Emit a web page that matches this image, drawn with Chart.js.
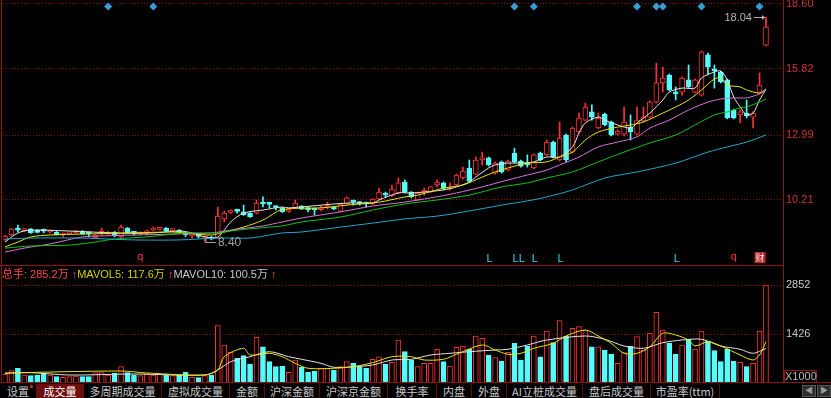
<!DOCTYPE html>
<html lang="zh">
<head>
<meta charset="UTF-8">
<title>成交量</title>
<script src="https://cdn.jsdelivr.net/npm/chart.js"></script>
<style>
  body { margin:0; background:#000; width:831px; height:398px; overflow:hidden; position:relative;
         font-family:'Liberation Sans','Noto Sans CJK SC',sans-serif; }
  canvas { position:absolute; left:0; }
  #priceChart { top:0; }
  #volChart { top:266px; }
  #volHead { position:absolute; left:2px; top:268px; font-size:11px; line-height:13px; white-space:nowrap; }
  #volHead .r { color:#ff4646; }
  #volHead .y { color:#d2d200; }
  #volHead .w { color:#c8c8c8; }
  #unit { position:absolute; left:784px; top:370px; width:31px; height:11px; border:1px solid #8c1414;
          color:#b4b4b4; font-size:11px; line-height:11px; text-align:center; }
  #tabs { position:absolute; left:0; top:384px; width:831px; height:14px; }
  .tab { position:absolute; top:0; height:14px; line-height:14px; font-size:11px; color:#c8c8c8;
         text-align:center; border-right:1px solid #5e0c0c; box-sizing:border-box;
         font-family:'Noto Sans CJK SC','Liberation Sans',sans-serif; white-space:nowrap; }
  .tab.on { background:#6e0f0f; color:#fff; }
  .dot { position:absolute; left:30px; top:1px; width:3px; height:3px; background:#ff2a2a; border-radius:2px; }
  .btn { position:absolute; top:385px; width:14px; height:12px; background:#2e2e2e; border:1px solid #555;
         box-sizing:border-box; color:#9a9a9a; font-size:8px; line-height:10px; text-align:center; }
</style>
</head>
<body>

<canvas id="priceChart" width="831" height="266"></canvas>
<canvas id="volChart" width="831" height="117"></canvas>

<div id="volHead">
  <span class="r">总手: 285.2万</span> <span class="r">↑</span><span class="y">MAVOL5: 117.6万</span> <span class="r">↑</span><span class="w">MAVOL10: 100.5万</span> <span class="r">↑</span>
</div>
<div id="unit">X1000</div>
<div id="tabs"></div>
<div class="btn" style="left:802px">◀</div>
<div class="btn" style="left:817px">▶</div>

<script>
  // 日K数据
  const openP = [8.50, 8.71, 8.97, 8.90, 8.97, 8.92, 8.90, 8.84, 8.84, 8.71,
    8.76, 8.80, 8.88, 8.80, 8.60, 8.78, 8.75, 8.84, 8.63, 9.01,
    8.84, 8.76, 8.80, 8.92, 8.95, 9.01, 8.90, 8.92, 8.78, 8.67,
    8.69, 8.58, 8.60, 8.58, 9.40, 9.68, 9.76, 9.70, 9.65, 9.65,
    10.10, 10.08, 9.93, 9.87, 9.72, 9.87, 9.95, 9.85, 9.82, 9.80,
    9.89, 9.91, 9.72, 10.04, 10.19, 10.12, 10.10, 10.04, 10.25, 10.47,
    10.38, 10.51, 10.98, 10.55, 10.21, 10.55, 10.55, 10.85, 10.94, 10.68,
    10.85, 11.15, 11.58, 11.32, 11.92, 12.01, 11.36, 11.84, 11.49, 12.22,
    11.88, 11.75, 11.58, 12.22, 12.14, 12.69, 11.92, 12.99, 12.26, 13.12,
    13.63, 13.98, 13.29, 13.89, 13.55, 13.03, 13.03, 13.33, 13.03, 13.59,
    13.76, 14.40, 15.22, 15.56, 14.83, 14.83, 15.35, 14.83, 14.70, 16.42,
    15.82, 15.69, 15.35, 14.06, 13.85, 13.93, 13.76, 14.79, 16.84];
  const highP = [8.70, 9.00, 9.14, 8.97, 8.99, 8.94, 8.97, 8.92, 8.86, 8.80,
    8.82, 8.90, 8.90, 8.84, 8.73, 9.01, 8.86, 8.86, 9.14, 9.03,
    8.86, 8.82, 8.92, 9.05, 9.01, 9.03, 8.97, 8.94, 8.82, 8.75,
    8.73, 8.67, 8.65, 9.91, 9.74, 9.78, 9.82, 9.99, 9.67, 10.21,
    10.34, 10.12, 9.95, 9.89, 9.80, 10.21, 9.97, 9.89, 9.87, 9.95,
    10.12, 9.93, 10.06, 10.34, 10.21, 10.14, 10.12, 10.27, 10.72, 10.55,
    10.85, 11.15, 11.07, 10.57, 10.55, 10.72, 10.79, 11.07, 10.98, 10.94,
    11.32, 11.62, 11.92, 12.05, 12.26, 12.05, 11.84, 11.88, 11.92, 12.43,
    11.92, 12.14, 12.18, 12.26, 12.78, 12.73, 13.55, 13.03, 13.33, 13.93,
    14.36, 14.28, 13.93, 13.93, 13.59, 13.21, 14.19, 13.85, 14.19, 14.19,
    14.45, 16.07, 15.90, 15.60, 15.05, 15.48, 15.99, 15.39, 16.59, 16.50,
    15.99, 15.73, 15.39, 14.10, 14.06, 14.49, 13.98, 15.65, 18.04];
  const lowP = [8.48, 8.69, 8.84, 8.86, 8.78, 8.80, 8.80, 8.80, 8.71, 8.63,
    8.74, 8.78, 8.74, 8.63, 8.58, 8.71, 8.73, 8.63, 8.60, 8.78,
    8.71, 8.71, 8.71, 8.88, 8.92, 8.86, 8.86, 8.82, 8.63, 8.58,
    8.58, 8.40, 8.50, 8.56, 9.27, 9.63, 9.65, 9.55, 9.46, 9.61,
    9.91, 9.87, 9.78, 9.68, 9.68, 9.85, 9.80, 9.70, 9.57, 9.74,
    9.82, 9.80, 9.70, 10.02, 9.99, 9.99, 9.91, 10.02, 10.23, 10.34,
    10.36, 10.49, 10.51, 10.30, 10.19, 10.42, 10.53, 10.77, 10.64, 10.64,
    10.81, 11.10, 10.98, 11.28, 11.71, 11.66, 11.32, 11.36, 11.45, 11.79,
    11.62, 11.62, 11.54, 11.88, 12.10, 12.01, 11.88, 11.84, 12.22, 13.08,
    13.59, 13.63, 13.25, 13.38, 12.95, 12.99, 12.95, 12.78, 12.99, 13.55,
    13.72, 14.36, 14.83, 14.88, 14.49, 14.70, 15.00, 14.79, 14.66, 15.56,
    15.00, 15.22, 13.68, 13.68, 13.51, 13.72, 13.29, 14.75, 16.80];
  const closeP = [8.67, 8.97, 8.92, 8.94, 8.80, 8.82, 8.87, 8.88, 8.73, 8.75,
    8.80, 8.88, 8.76, 8.76, 8.71, 8.82, 8.84, 8.67, 9.05, 8.80,
    8.78, 8.80, 8.86, 8.97, 8.99, 8.88, 8.93, 8.84, 8.73, 8.71,
    8.65, 8.63, 8.54, 9.52, 9.65, 9.72, 9.72, 9.57, 9.50, 10.08,
    10.04, 10.02, 9.89, 9.70, 9.78, 10.08, 9.82, 9.80, 9.78, 9.85,
    9.93, 9.82, 10.04, 10.30, 10.12, 10.06, 10.04, 10.25, 10.55, 10.42,
    10.68, 10.94, 10.55, 10.34, 10.51, 10.60, 10.77, 10.98, 10.70, 10.74,
    11.28, 11.45, 11.02, 11.92, 12.01, 11.71, 11.79, 11.41, 11.88, 11.84,
    11.66, 11.71, 12.14, 11.92, 12.69, 12.05, 12.86, 11.92, 13.29, 13.72,
    14.19, 13.76, 13.72, 13.42, 12.99, 13.16, 13.55, 13.12, 13.63, 13.76,
    14.40, 15.22, 15.43, 14.92, 14.75, 15.43, 15.05, 15.35, 16.55, 15.90,
    15.73, 15.26, 13.72, 13.72, 13.98, 13.81, 13.93, 15.13, 17.61];

  // 成交量（单位：千手）
  const volume = [253, 358, 428, 233, 213, 233, 282, 233, 184, 165,
    184, 204, 184, 184, 300, 300, 233, 282, 475, 300,
    233, 213, 262, 233, 262, 233, 213, 233, 311, 165,
    155, 213, 233, 1668, 1106, 893, 719, 795, 553, 1330,
    1056, 620, 475, 495, 311, 669, 457, 311, 349, 428,
    428, 378, 475, 620, 573, 475, 428, 690, 765, 553,
    600, 1251, 911, 669, 475, 573, 573, 980, 620, 495,
    1038, 1077, 980, 1368, 1300, 815, 737, 640, 893, 1155,
    669, 1077, 1368, 765, 1513, 1173, 1813, 1368, 1591, 1640,
    1542, 1056, 1056, 960, 844, 573, 882, 1077, 1348, 960,
    1446, 2057, 1542, 1155, 844, 1106, 1271, 989, 1513, 1222,
    940, 620, 989, 640, 602, 475, 573, 1513, 2852];

  // 均线 [K线序号, 数值]
  const ma5Pts = [[0, 8.41], [2, 8.80], [4, 8.92], [10, 8.88], [17, 8.80], [23, 8.80], [27, 8.88], [29, 8.80],
    [31, 8.63], [33, 8.63], [35, 9.27], [37, 9.65], [40, 9.78], [43, 9.91], [44, 9.87], [53, 10.08], [57, 10.08],
    [58, 10.21], [61, 10.51], [63, 10.51], [65, 10.55], [68, 10.64], [70, 10.77], [72, 10.98], [73, 11.19],
    [75, 11.58], [76, 11.71], [78, 11.79], [80, 11.79], [82, 11.84], [84, 12.05], [86, 12.05], [88, 12.48],
    [89, 13.08], [90, 13.51], [92, 13.76], [93, 13.63], [95, 13.42], [97, 13.29], [98, 13.51], [100, 13.93],
    [102, 14.49], [103, 14.83], [105, 15.00], [107, 15.00], [108, 15.43], [110, 15.69], [111, 15.73],
    [112, 15.35], [113, 14.62], [114, 14.19], [115, 13.85], [116, 13.93], [117, 14.49], [118, 14.96]];
  const ma10Pts = [[0, 8.20], [2, 8.41], [4, 8.63], [7, 8.71], [12, 8.75], [20, 8.80], [26, 8.84], [28, 8.80],
    [32, 8.71], [34, 8.84], [37, 9.05], [40, 9.35], [43, 9.80], [49, 9.87], [53, 9.99], [58, 10.12],
    [62, 10.34], [64, 10.42], [68, 10.72], [71, 10.85], [74, 11.19], [76, 11.41], [78, 11.58], [81, 11.79],
    [84, 11.84], [86, 12.05], [88, 12.26], [90, 12.78], [92, 13.12], [95, 13.33], [97, 13.42], [99, 13.55],
    [102, 13.93], [104, 14.19], [106, 14.49], [108, 14.92], [110, 15.39], [111, 15.43], [112, 15.13],
    [114, 15.05], [115, 14.92], [117, 14.79], [118, 14.96]];
  const ma20Pts = [[0, 7.98], [3, 8.15], [7, 8.33], [12, 8.63], [15, 8.67], [20, 8.71], [26, 8.75], [32, 8.80],
    [35, 8.92], [40, 9.10], [43, 9.27], [46, 9.44], [52, 9.70], [57, 9.95], [62, 10.12], [66, 10.30],
    [70, 10.51], [74, 10.77], [78, 11.07], [81, 11.28], [84, 11.49], [86, 11.71], [89, 12.05], [92, 12.48],
    [95, 12.69], [98, 12.91], [100, 13.29], [103, 13.63], [106, 14.06], [109, 14.40], [111, 14.53],
    [113, 14.58], [115, 14.58], [117, 14.75], [118, 14.92]];
  const ma30Pts = [[0, 8.15], [4, 8.24], [10, 8.28], [14, 8.41], [17, 8.54], [22, 8.63], [28, 8.80], [33, 8.80],
    [36, 8.92], [41, 9.05], [43, 9.10], [46, 9.27], [52, 9.48], [57, 9.78], [62, 10.04], [67, 10.21],
    [72, 10.42], [77, 10.77], [81, 10.94], [84, 11.15], [88, 11.41], [92, 11.84], [96, 12.26], [100, 12.65],
    [104, 12.99], [107, 13.42], [110, 13.85], [112, 13.98], [114, 14.15], [115, 14.19], [117, 14.40], [118, 14.53]];
  const ma60Pts = [[0, 8.54], [4, 8.58], [12, 8.58], [16, 8.54], [20, 8.50], [27, 8.50], [33, 8.58], [38, 8.58],
    [41, 8.71], [43, 8.80], [46, 8.84], [52, 9.05], [57, 9.22], [62, 9.40], [67, 9.52], [72, 9.74],
    [77, 9.99], [81, 10.17], [84, 10.34], [88, 10.64], [93, 11.15], [98, 11.41], [104, 11.79], [109, 12.26],
    [112, 12.48], [115, 12.69], [118, 12.99]];
  const volMa5Pts = [[0, 291], [18, 349], [22, 291], [31, 233], [33, 378], [34, 765], [37, 1010], [38, 815],
    [41, 864], [43, 765], [45, 573], [47, 428], [51, 428], [54, 474], [57, 591], [60, 765], [63, 765],
    [65, 669], [68, 690], [70, 835], [74, 1106], [76, 960], [78, 835], [80, 864], [82, 1010], [85, 1155],
    [87, 1368], [90, 1542], [92, 1368], [94, 1155], [96, 864], [98, 864], [100, 1056], [102, 1446],
    [104, 1397], [106, 1251], [107, 1077], [109, 1202], [111, 1077], [114, 815], [116, 669], [117, 815], [118, 1202]];
  const volMa10Pts = [[0, 282], [4, 300], [10, 233], [20, 262], [31, 233], [33, 378], [35, 620], [38, 765],
    [41, 911], [44, 765], [46, 690], [49, 573], [51, 457], [54, 474], [57, 524], [60, 669], [63, 690],
    [66, 815], [69, 864], [72, 911], [76, 960], [78, 981], [81, 1106], [84, 1251], [90, 1368], [93, 1272],
    [96, 1077], [99, 1010], [102, 1173], [105, 1251], [108, 1272], [111, 1077], [114, 981], [116, 864], [118, 1005]];

  const priceTicks = [18.60, 15.82, 12.99, 10.21];
  const volTicks = [1426, 2852];
  const signalIdx = [16, 23, 79, 82, 98, 101, 102, 108, 117];
  const markL = [75, 79, 80, 82, 86, 104];
  const markQ = [21, 113];
  const markCai = [117];
  const highLabelIdx = 118, lowLabelIdx = 31;

  const tabNames = ['设置', '成交量', '多周期成交量', '虚拟成交量', '金额', '沪深金额', '沪深京金额',
    '换手率', '内盘', '外盘', 'AI立桩成交量', '盘后成交量', '市盈率(ttm)'];
  const tabEdges = [0, 37, 84, 162, 230, 265, 320, 388, 437, 472, 507, 583, 651, 720];

  const RED = '#ff3232', CYAN = '#54fcfc', FRAME = '#8c1414';
  Chart.defaults.font.family = "'Liberation Sans', 'Noto Sans CJK SC', sans-serif";
  Chart.defaults.font.size = 11;

  const idx = openP.map((_, i) => i);
  const up = idx.map(i => closeP[i] >= openP[i]);
  const toXY = pts => pts.map(p => ({ x: p[0], y: p[1] }));

  const xScale = { type: 'linear', min: -0.31, max: 120.64, display: false, offset: false };

  function rightAxis(min, max, ticks, color, fmt) {
    return {
      position: 'right', min: min, max: max,
      afterBuildTicks: s => { s.ticks = ticks.map(v => ({ value: v })); },
      // 刻度文字不占用绘图区上下空间
      afterFit: s => { s.width = 48; s.paddingTop = 0; s.paddingBottom = 0; },
      grid: { color: FRAME, drawTicks: false, lineWidth: 1 },
      border: { display: false, dash: [1, 2] },
      ticks: { color: color, padding: 3, font: { size: 11 }, callback: fmt }
    };
  }

  function maLine(pts, color) {
    return { type: 'line', data: toXY(pts), borderColor: color, borderWidth: 1, pointRadius: 0,
      tension: 0.3, fill: false, order: 1 };
  }

  // 面板边框
  function framePlugin(bottomFull) {
    return {
      id: 'frame',
      afterDraw(chart) {
        const { ctx, width, height } = chart;
        ctx.save();
        ctx.strokeStyle = FRAME;
        ctx.lineWidth = 1;
        ctx.beginPath();
        ctx.moveTo(1.5, 0); ctx.lineTo(1.5, height);
        ctx.moveTo(783.5, 0); ctx.lineTo(783.5, height);
        ctx.moveTo(0, height - 0.5); ctx.lineTo(bottomFull ? width : 784, height - 0.5);
        ctx.stroke();
        ctx.restore();
      }
    };
  }

  const priceMarks = {
    id: 'priceMarks',
    afterDatasetsDraw(chart) {
      const { ctx, scales: { x, y } } = chart;
      ctx.save();
      ctx.font = "11px 'Liberation Sans', sans-serif";
      ctx.textAlign = 'center';
      ctx.textBaseline = 'alphabetic';
      ctx.fillStyle = '#30d8ec';
      markL.forEach(i => ctx.fillText('L', x.getPixelForValue(i) + 1, 262));
      ctx.fillStyle = RED;
      markQ.forEach(i => ctx.fillText('q', x.getPixelForValue(i), 260));
      markCai.forEach(i => {
        const px = x.getPixelForValue(i);
        ctx.fillStyle = '#b82a2a';
        ctx.fillRect(px - 5, 252, 11, 11);
        ctx.fillStyle = '#ffe0e0';
        ctx.font = "9px 'Noto Sans CJK SC', sans-serif";
        ctx.textBaseline = 'middle';
        ctx.fillText('财', px + 0.5, 257.5);
      });

      // 最高价标注
      const hx = x.getPixelForValue(highLabelIdx), hy = Math.round(y.getPixelForValue(highP[highLabelIdx])) + 0.5;
      ctx.strokeStyle = '#b4b4b4';
      ctx.fillStyle = '#b4b4b4';
      ctx.lineWidth = 1;
      ctx.beginPath();
      ctx.moveTo(hx - 12, hy); ctx.lineTo(hx - 1, hy);
      ctx.stroke();
      ctx.beginPath();
      ctx.moveTo(hx - 1, hy); ctx.lineTo(hx - 4, hy - 2.5); ctx.lineTo(hx - 4, hy + 2.5); ctx.closePath();
      ctx.fill();
      ctx.font = "11px 'Liberation Sans', sans-serif";
      ctx.textAlign = 'right';
      ctx.textBaseline = 'middle';
      ctx.fillText(highP[highLabelIdx].toFixed(2), hx - 14, hy);

      // 最低价标注
      const lx = x.getPixelForValue(lowLabelIdx), ly = Math.round(y.getPixelForValue(lowP[lowLabelIdx])) + 0.5;
      ctx.strokeStyle = '#a0a0a0';
      ctx.fillStyle = '#a0a0a0';
      ctx.beginPath();
      ctx.moveTo(lx + 1, ly - 6); ctx.lineTo(lx + 1, ly); ctx.lineTo(lx + 11, ly);
      ctx.stroke();
      ctx.textAlign = 'left';
      ctx.font = "12px 'Liberation Sans', sans-serif";
      ctx.fillText(lowP[lowLabelIdx].toFixed(2), lx + 13, ly);
      ctx.restore();
    }
  };

  new Chart(document.getElementById('priceChart'), {
    type: 'bar',
    data: {
      datasets: [
        { type: 'bar', data: idx.map(i => ({ x: i, y: [lowP[i], highP[i]] })),
          backgroundColor: idx.map(i => up[i] ? RED : CYAN), barThickness: 1, grouped: false, order: 3 },
        { type: 'bar', data: idx.map(i => ({ x: i, y: [openP[i], closeP[i]] })),
          backgroundColor: idx.map(i => up[i] ? '#000' : CYAN), borderColor: idx.map(i => up[i] ? RED : CYAN),
          borderWidth: 1, borderSkipped: false, barThickness: 5, minBarLength: 2, grouped: false, order: 2 },
        maLine(ma60Pts, '#1ea8cc'),
        maLine(ma30Pts, '#12c412'),
        maLine(ma20Pts, '#d874d8'),
        maLine(ma10Pts, '#e6e600'),
        maLine(ma5Pts, '#e4e4e4'),
        { type: 'line', data: signalIdx.map(i => ({ x: i, y: 18.49 })), showLine: false, pointStyle: 'rectRot',
          pointRadius: 4, pointBackgroundColor: '#3a9cd6', pointBorderWidth: 0, order: 0 }
      ]
    },
    options: {
      responsive: false, animation: false,
      layout: { autoPadding: false, padding: { left: 3, right: 0, top: 0, bottom: 0 } },
      plugins: { legend: { display: false }, tooltip: { enabled: false } },
      scales: {
        x: xScale,
        y: rightAxis(7.384, 18.771, priceTicks, '#d23232', v => v.toFixed(2))
      }
    },
    plugins: [priceMarks, framePlugin(false)]
  });

  new Chart(document.getElementById('volChart'), {
    type: 'bar',
    data: {
      datasets: [
        { type: 'bar', data: idx.map(i => ({ x: i, y: volume[i] })),
          backgroundColor: idx.map(i => up[i] ? '#000' : CYAN), borderColor: idx.map(i => up[i] ? RED : CYAN),
          borderWidth: 1, borderSkipped: false, barThickness: 5, grouped: false, order: 2 },
        maLine(volMa5Pts, '#e6e600'),
        maLine(volMa10Pts, '#e4e4e4')
      ]
    },
    options: {
      responsive: false, animation: false,
      layout: { autoPadding: false, padding: { left: 3, right: 0, top: 0, bottom: 0 } },
      plugins: { legend: { display: false }, tooltip: { enabled: false } },
      scales: {
        x: xScale,
        y: rightAxis(0, 3405, volTicks, '#c8c8c8', v => String(v))
      }
    },
    plugins: [framePlugin(true)]
  });

  // 底部指标切换栏
  const tabs = document.getElementById('tabs');
  tabNames.forEach((name, i) => {
    const d = document.createElement('div');
    d.className = 'tab' + (i === 1 ? ' on' : '');
    d.style.left = tabEdges[i] + 'px';
    d.style.width = (tabEdges[i + 1] - tabEdges[i]) + 'px';
    d.textContent = name;
    if (i === 0) {
      const dot = document.createElement('span');
      dot.className = 'dot';
      d.appendChild(dot);
    }
    tabs.appendChild(d);
  });
</script>

</body>
</html>
